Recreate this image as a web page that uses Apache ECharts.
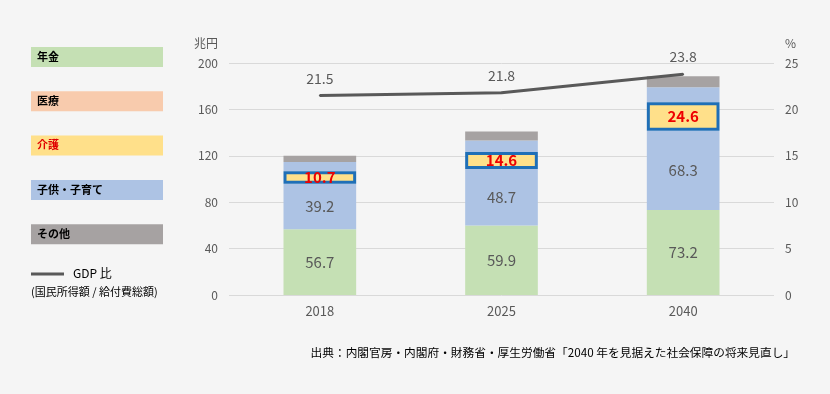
<!DOCTYPE html>
<html><head><meta charset="utf-8">
<script src="https://cdn.jsdelivr.net/npm/echarts@6/dist/echarts.min.js"></script>
<style>html,body{margin:0;padding:0;background:#f5f5f5}#c{width:830px;height:394px}</style>
</head><body><div id="c"></div>
<script>
const years = ['2018', '2025', '2040'];
const pension = [56.7, 59.9, 73.2];
const medical = [39.2, 48.7, 68.3];
const care = [10.7, 14.6, 24.6];
const child = [8.0, 10.0, 13.1];
const other = [5.5, 7.7, 9.4];
const gdpRatio = [21.5, 21.8, 23.8];
const leftTicks = [0, 40, 80, 120, 160, 200];
const rightTicks = [0, 5, 10, 15, 20, 25];
const legendItems = [
  {name: '年金', color: '#c5e0b4', text: '#000'},
  {name: '医療', color: '#f8cbad', text: '#000'},
  {name: '介護', color: '#ffe08a', text: '#e00000'},
  {name: '子供・子育て', color: '#adc3e4', text: '#000'},
  {name: 'その他', color: '#a6a2a2', text: '#000'}
];

const FONT = '"Noto Sans CJK JP", "Noto Sans", sans-serif';
const chart = echarts.init(document.getElementById('c'));
const barW = '40%';
function barSeries(name, data, color, extra) {
  return Object.assign({
    name, type: 'bar', stack: 'total', data, barWidth: barW, yAxisIndex: 0,
    itemStyle: {color},
    label: {show: false},
    emphasis: {disabled: true}
  }, extra || {});
}
const numLabel = {show: true, position: 'inside', color: '#595959', fontSize: 15, fontFamily: FONT};

const graphics = [];
legendItems.forEach((it, i) => {
  const y = 47 + i * 44.3;
  graphics.push({type: 'rect', left: 31, top: y, shape: {width: 132, height: 20}, style: {fill: it.color}, silent: true});
  graphics.push({type: 'text', left: 37, top: y + 4, style: {text: it.name, fill: it.text, font: 'bold 11px ' + FONT}, silent: true});
});
graphics.push({type: 'line', shape: {x1: 31, y1: 274, x2: 64, y2: 274}, style: {stroke: '#595959', lineWidth: 3}, silent: true});
graphics.push({type: 'text', left: 73, top: 267, style: {text: 'GDP 比', fill: '#000', font: '12px ' + FONT}, silent: true});
graphics.push({type: 'text', left: 31, top: 286, style: {text: '(国民所得額 / 給付費総額)', fill: '#000', font: '11px ' + FONT}, silent: true});
graphics.push({type: 'text', right: 612, top: 37, style: {text: '兆円', fill: '#595959', font: '12px ' + FONT}, silent: true});
graphics.push({type: 'text', left: 785, top: 37, style: {text: '%', fill: '#595959', font: '12px ' + FONT}, silent: true});
graphics.push({type: 'text', right: 35, top: 347, style: {text: '出典：内閣官房・内閣府・財務省・厚生労働省「2040 年を見据えた社会保障の将来見直し」', fill: '#000', font: '11.7px ' + FONT}, silent: true});

chart.setOption({
  backgroundColor: '#f5f5f5',
  animation: false,
  textStyle: {fontFamily: FONT},
  grid: {left: 229, right: 56, top: 63, bottom: 99},
  xAxis: {
    type: 'category', data: years,
    axisLine: {show: false}, axisTick: {show: false},
    axisLabel: {color: '#595959', fontSize: 13, margin: 10, fontFamily: FONT}
  },
  yAxis: [
    {type: 'value', min: leftTicks[0], max: leftTicks[leftTicks.length - 1], interval: 40,
     axisLine: {show: false}, axisTick: {show: false},
     axisLabel: {color: '#595959', fontSize: 12, margin: 11, fontFamily: FONT},
     splitLine: {lineStyle: {color: '#d9d9d9', width: 1}}},
    {type: 'value', min: rightTicks[0], max: rightTicks[rightTicks.length - 1], interval: 5,
     axisLine: {show: false}, axisTick: {show: false},
     axisLabel: {color: '#595959', fontSize: 12, margin: 11, fontFamily: FONT},
     splitLine: {show: false}}
  ],
  graphic: graphics,
  series: [
    barSeries('年金', pension, '#c5e0b4', {label: numLabel}),
    barSeries('医療', medical, '#adc3e4', {label: numLabel}),
    barSeries('介護', care, '#ffe08a', {
      z: 4,
      itemStyle: {color: '#ffe08a', borderColor: '#1f6fb7', borderWidth: 3},
      label: {show: true, position: 'inside', color: '#ee0000', fontSize: 15, fontWeight: 'bold', fontFamily: FONT}
    }),
    barSeries('子供・子育て', child, '#adc3e4'),
    barSeries('その他', other, '#a6a2a2'),
    {
      name: 'GDP比', type: 'line', yAxisIndex: 1, data: gdpRatio, z: 6,
      symbol: 'circle', symbolSize: 2, showSymbol: true, itemStyle: {color: '#595959'},
      lineStyle: {color: '#595959', width: 3},
      label: {show: true, position: 'top', distance: 9, color: '#595959', fontSize: 14, fontFamily: FONT},
      emphasis: {disabled: true}
    }
  ]
});
</script></body></html>
